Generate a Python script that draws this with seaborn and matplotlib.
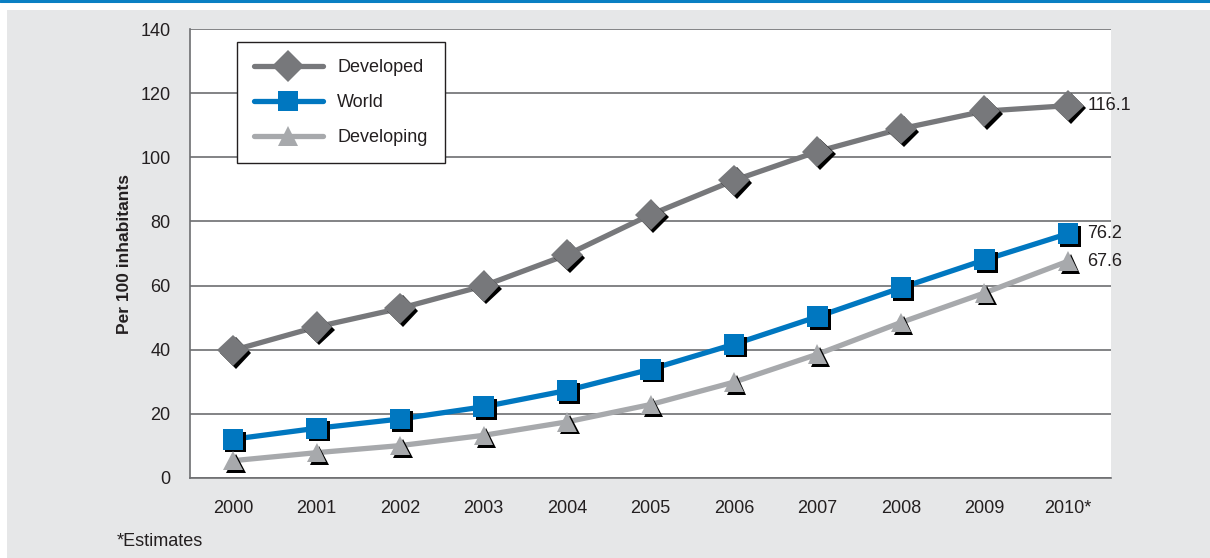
import matplotlib
matplotlib.use("Agg")
import matplotlib.pyplot as plt
import matplotlib.patheffects as pe
from matplotlib.lines import Line2D
from matplotlib.patches import Rectangle
import pandas as pd
import seaborn as sns

years = ["2000", "2001", "2002", "2003", "2004", "2005", "2006", "2007", "2008", "2009", "2010*"]
developed = [39.8, 47.1, 52.9, 59.9, 69.6, 82.1, 92.8, 101.8, 108.9, 114.4, 116.1]
world = [12.1, 15.5, 18.4, 22.2, 27.3, 33.9, 41.7, 50.3, 59.3, 68.0, 76.2]
developing = [5.4, 7.9, 10.1, 13.3, 17.5, 22.9, 29.9, 38.6, 48.5, 57.7, 67.6]
end_labels = ["116.1", "76.2", "67.6"]

sns.set_style("white")
plt.rcParams["font.family"] = ["Liberation Sans Narrow", "Liberation Sans", "DejaVu Sans"]
txt = "#231f20"

fig = plt.figure(figsize=(12.1, 5.58), dpi=100)
fig.patches.append(Rectangle((7 / 1210, 0), 1, 548 / 558, transform=fig.transFigure,
                             facecolor="#e6e7e8", edgecolor="none", zorder=-10))
fig.lines.append(Line2D([0, 1], [1 - 1 / 558, 1 - 1 / 558], transform=fig.transFigure,
                        color="#0a7fc3", lw=2.2))

ax = fig.add_axes([190 / 1210, 1 - 478 / 558, 921 / 1210, 449 / 558])
ax.set_facecolor("white")

series = [
    ("Developed", developed, "#77787b", "D", 16),
    ("World", world, "#0077c0", "s", 15),
    ("Developing", developing, "#a7a9ac", "^", 14),
]
shadow = [pe.SimplePatchShadow(offset=(2, -2), shadow_rgbFace="black", alpha=1), pe.Normal()]

for i, (name, vals, col, mk, ms) in enumerate(series):
    df = pd.DataFrame({"year": years, "value": vals})
    sns.lineplot(data=df, x="year", y="value", ax=ax, color=col, lw=3.8,
                 sort=False, zorder=3 + i)
    sns.lineplot(data=df, x="year", y="value", ax=ax, color=col, linestyle="",
                 marker=mk, markersize=ms, markeredgewidth=0, sort=False,
                 path_effects=shadow, zorder=4 + i)
    ax.annotate(end_labels[i], (len(years) - 1, vals[-1]), xytext=(14, 0),
                textcoords="offset points", ha="left", va="center",
                fontsize=13, color=txt)

ax.set_xlim(-0.515, len(years) - 1 + 0.515)
ax.set_ylim(0, 140)
ax.set_yticks(range(0, 141, 20))
ax.grid(axis="y", color="#6d6e71", lw=1.2)
ax.set_axisbelow(True)
for s in ["top", "right"]:
    ax.spines[s].set_visible(False)
for s in ["left", "bottom"]:
    ax.spines[s].set_color("#6d6e71")
    ax.spines[s].set_linewidth(1.2)
ax.tick_params(axis="both", length=0, labelsize=13, colors=txt)
ax.tick_params(axis="x", pad=16)
ax.tick_params(axis="y", pad=14)
ax.set_xlabel("")
ax.set_ylabel("Per 100 inhabitants", fontsize=12.5, fontweight="bold", color=txt, labelpad=6)

handles = [Line2D([], [], color=c, lw=3.8, marker=m, markersize=ms, markeredgewidth=0)
           for _, _, c, m, ms in series]
leg = ax.legend(handles, [s[0] for s in series], loc="upper left",
                bbox_to_anchor=(0.051, 0.971), borderaxespad=0, fontsize=13,
                handlelength=3.8, labelspacing=1.0, borderpad=0.95, handletextpad=0.8,
                frameon=True, fancybox=False, framealpha=1)
leg.get_frame().set_edgecolor("#231f20")
leg.get_frame().set_linewidth(1.0)
for t in leg.get_texts():
    t.set_color(txt)

fig.text(117 / 1210, 1 - 541 / 558, "*Estimates", fontsize=13, color=txt, va="center")

fig.savefig("out.png", dpi=100)
